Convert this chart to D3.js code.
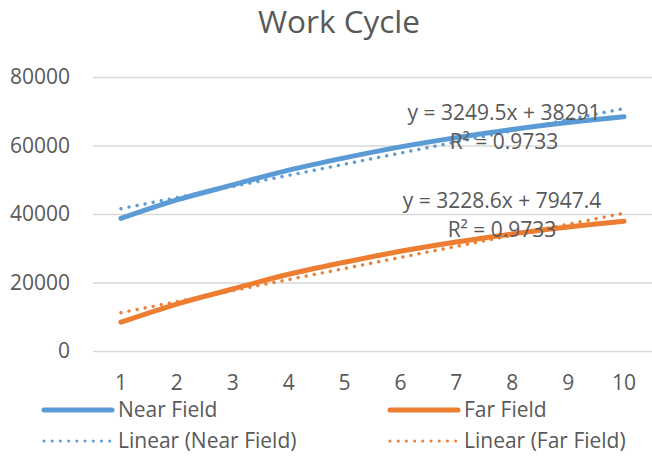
<!DOCTYPE html>
<html>
<head>
<meta charset="utf-8">
<script src="https://cdn.jsdelivr.net/npm/d3@7/dist/d3.min.js"></script>
<style>
  html, body { margin: 0; padding: 0; background: #fff; }
  svg { display: block; font-family: "Open Sans", "Noto Sans", sans-serif; }
</style>
</head>
<body>
<svg id="chart" width="652" height="461"></svg>
<script>
// Work cycle measurements, cycles 1..10
const cycles = [1, 2, 3, 4, 5, 6, 7, 8, 9, 10];
const nearField = [38700, 44100, 48500, 52800, 56400, 59600, 62300, 64700, 66700, 68400];
const farField  = [8400, 13700, 18100, 22400, 25900, 29100, 31800, 34200, 36200, 37900];

// Linear trendline fits: [slope, intercept, R²]
const nearFit = [3249.5, 38291, 0.9733];
const farFit  = [3228.6, 7947.4, 0.9733];

const yTicks = [0, 20000, 40000, 60000, 80000];
const seriesNames = ["Near Field", "Far Field"];
const trendNames = ["Linear (Near Field)", "Linear (Far Field)"];

const blue = "#5b9bd5", orange = "#ed7d31", textCol = "#595959", gridCol = "#d9d9d9";

const svg = d3.select("#chart");
const plot = { left: 93, right: 652, top: 77, bottom: 351 };

const x = d3.scaleBand().domain(cycles).range([plot.left, plot.right]);
const xc = d => x(d) + x.bandwidth() / 2;
const y = d3.scaleLinear().domain([0, 80000]).range([plot.bottom, plot.top]);

// Title
svg.append("text")
  .attr("x", 339).attr("y", 33)
  .attr("text-anchor", "middle")
  .attr("fill", textCol)
  .attr("font-size", 31.5)
  .text("Work Cycle");

// Horizontal gridlines + y tick labels
const yAxis = d3.axisLeft(y).tickValues(yTicks).tickSize(-(plot.right - plot.left)).tickPadding(23).tickFormat(d3.format("d"));
const gy = svg.append("g").attr("transform", `translate(${plot.left},0)`).call(yAxis);
gy.select(".domain").remove();
gy.selectAll(".tick line").attr("stroke", gridCol).attr("stroke-width", 1.3);
gy.selectAll(".tick text").attr("fill", textCol).attr("font-size", 21).attr("font-family", "Open Sans, sans-serif");

// X tick labels
const xAxis = d3.axisBottom(x).tickSize(0).tickPadding(24);
const gx = svg.append("g").attr("transform", `translate(0,${plot.bottom})`).call(xAxis);
gx.select(".domain").remove();
gx.selectAll(".tick text").attr("fill", textCol).attr("font-size", 21).attr("font-family", "Open Sans, sans-serif");

// Smoothed data lines
const line = d3.line()
  .x((d, i) => xc(cycles[i]))
  .y(d => y(d))
  .curve(d3.curveCatmullRom.alpha(0.5));

[[nearField, blue], [farField, orange]].forEach(([vals, col]) => {
  svg.append("path")
    .attr("d", line(vals))
    .attr("fill", "none")
    .attr("stroke", col)
    .attr("stroke-width", 5)
    .attr("stroke-linecap", "round")
    .attr("stroke-linejoin", "round");
});

// Dotted linear trendlines from fitted coefficients
const dots = "0.01 8.2";
[[nearFit, blue], [farFit, orange]].forEach(([fit, col]) => {
  const x0 = cycles[0], x1 = cycles[cycles.length - 1];
  svg.append("line")
    .attr("x1", xc(x0)).attr("y1", y(fit[0] * x0 + fit[1]))
    .attr("x2", xc(x1)).attr("y2", y(fit[0] * x1 + fit[1]))
    .attr("stroke", col)
    .attr("stroke-width", 3.4)
    .attr("stroke-linecap", "round")
    .attr("stroke-dasharray", dots);
});

// Trendline equation labels
const eqLabels = [
  { fit: nearFit, cx: 504, y1: 120, y2: 149 },
  { fit: farFit,  cx: 502, y1: 208, y2: 237 }
];
eqLabels.forEach(l => {
  const g = svg.append("g").attr("fill", textCol).attr("font-size", 21).attr("text-anchor", "middle");
  g.append("text").attr("x", l.cx).attr("y", l.y1).text(`y = ${l.fit[0]}x + ${l.fit[1]}`);
  g.append("text").attr("x", l.cx).attr("y", l.y2).text(`R² = ${l.fit[2]}`);
});

// Legend
const legend = [
  { name: seriesNames[0], col: blue,   x: 42,  y: 410, dotted: false },
  { name: seriesNames[1], col: orange, x: 388, y: 410, dotted: false },
  { name: trendNames[0],  col: blue,   x: 42,  y: 441, dotted: true },
  { name: trendNames[1],  col: orange, x: 388, y: 441, dotted: true }
];
legend.forEach(d => {
  const g = svg.append("g");
  g.append("line")
    .attr("x1", d.x + 2).attr("x2", d.x + 70)
    .attr("y1", d.y).attr("y2", d.y)
    .attr("stroke", d.col)
    .attr("stroke-width", d.dotted ? 3 : 5)
    .attr("stroke-linecap", "round")
    .attr("stroke-dasharray", d.dotted ? dots : null);
  g.append("text")
    .attr("x", d.x + 76).attr("y", d.y + 7)
    .attr("fill", textCol).attr("font-size", 21)
    .text(d.name);
});
</script>
</body>
</html>
